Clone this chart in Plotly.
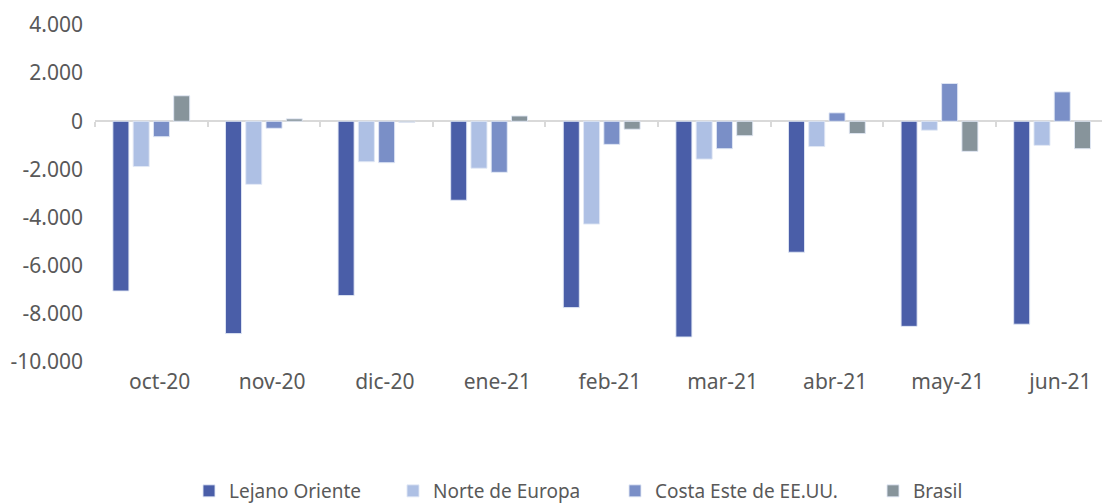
import plotly.graph_objects as go

months = ["oct-20", "nov-20", "dic-20", "ene-21", "feb-21", "mar-21", "abr-21", "may-21", "jun-21"]
lejano_oriente = [-7050, -8820, -7240, -3280, -7740, -8960, -5440, -8520, -8430]
norte_europa = [-1880, -2620, -1680, -1950, -4270, -1570, -1050, -370, -1000]
costa_este = [-640, -290, -1720, -2120, -960, -1140, 350, 1570, 1220]
brasil = [1060, 100, -50, 220, -330, -600, -510, -1250, -1140]

series_names = ["Lejano Oriente", "Norte de Europa", "Costa Este de EE.UU.", "Brasil"]
series_values = [lejano_oriente, norte_europa, costa_este, brasil]
colors = ["#4a5ea8", "#aec0e4", "#7a8fc7", "#87949b"]

y_tickvals = [4000, 2000, 0, -2000, -4000, -6000, -8000, -10000]
y_ticktext = ["4.000", "2.000", "0", "-2.000", "-4.000", "-6.000", "-8.000", "-10.000"]

FONT = "Noto Sans"
TXT = "#595959"
W, H = 1102, 503
L_MARGIN = 95
CAT_PX = 112.6                      # width of one category in pixels
X_MAX = -0.5 + (W - L_MARGIN) / CAT_PX   # plot runs off the right edge, as in the reference
LABEL_SHIFT = 8.3 / CAT_PX          # category labels sit slightly right of the groups

legend_ids = ["legend", "legend2", "legend3", "legend4"]
legend_left_px = [189, 393, 615, 873]

fig = go.Figure()
for name, vals, col, lid in zip(series_names, series_values, colors, legend_ids):
    fig.add_trace(go.Bar(
        x=months, y=vals, name=name, legend=lid,
        marker=dict(color=col, line=dict(color="rgba(225,232,245,0.9)", width=1)),
    ))

# helper traces: axis at zero (boundary tick marks) and category label axis
fig.add_trace(go.Bar(x=months, y=[None] * len(months), xaxis="x2",
                     showlegend=False, hoverinfo="skip"))
fig.add_trace(go.Bar(x=months, y=[None] * len(months), xaxis="x3",
                     showlegend=False, hoverinfo="skip"))

legend_layout = {}
for lid, lx in zip(legend_ids, legend_left_px):
    legend_layout[lid] = dict(
        orientation="h", xref="container", x=lx / W, xanchor="left",
        yref="container", y=1 - 491 / H, yanchor="middle",
        font=dict(family=FONT, size=19, color=TXT),
        itemwidth=30, bgcolor="rgba(0,0,0,0)",
    )

fig.update_layout(
    width=W, height=H,
    margin=dict(l=L_MARGIN, r=0, t=25, b=141, autoexpand=False),
    paper_bgcolor="white", plot_bgcolor="white",
    barmode="group", bargap=0.28, bargroupgap=0.21,
    font=dict(family=FONT, size=21, color=TXT),
    showlegend=True,
    xaxis=dict(type="category", range=[-0.5, X_MAX], showgrid=False, zeroline=False,
               showline=False, showticklabels=False, ticks="", automargin=False),
    xaxis2=dict(type="category", range=[-0.5, X_MAX], overlaying="x", anchor="free",
                position=10000 / 14000, showgrid=False, zeroline=False, showline=False,
                showticklabels=False, ticks="outside", tickson="boundaries",
                ticklen=5, tickwidth=1.5, tickcolor="#d9d9d9", automargin=False),
    xaxis3=dict(type="category", range=[-0.5 - LABEL_SHIFT, X_MAX - LABEL_SHIFT],
                overlaying="x", anchor="y", side="bottom", showgrid=False,
                zeroline=False, showline=False, ticks="outside", ticklen=1,
                tickcolor="rgba(0,0,0,0)", automargin=False,
                tickfont=dict(family=FONT, size=21, color=TXT)),
    yaxis=dict(range=[-10000, 4000], tickvals=y_tickvals, ticktext=y_ticktext,
               showgrid=False, zeroline=True, zerolinecolor="#d9d9d9", zerolinewidth=2,
               showline=False, ticks="", ticklabelstandoff=11, automargin=False,
               tickfont=dict(family=FONT, size=21, color=TXT)),
    **legend_layout,
)

fig.write_html("out.html", config={"displayModeBar": False},
               post_script="document.body.style.margin='0';document.body.style.overflow='hidden';")
